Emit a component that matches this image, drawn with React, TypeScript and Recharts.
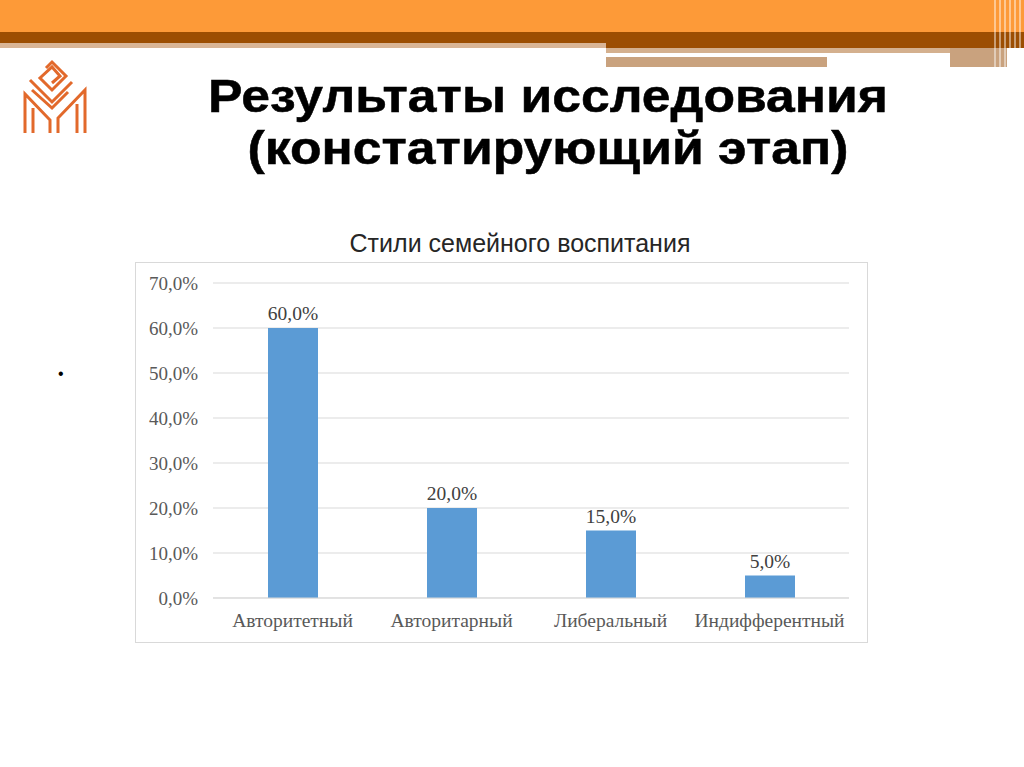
import { BarChart, Bar, XAxis, YAxis, CartesianGrid, LabelList } from "recharts";

const categories = ["Авторитетный", "Авторитарный", "Либеральный", "Индифферентный"];
const shares = [60, 20, 15, 5];
const yTicks = [0, 10, 20, 30, 40, 50, 60, 70];

const chartData = categories.map((name, i) => ({ name, share: shares[i] }));

const pct = (v: number) => `${v.toFixed(1).replace(".", ",")}%`;

const serif = "'Liberation Serif', 'DejaVu Serif', serif";
const sans = "'Liberation Sans', Arial, sans-serif";

function Banner() {
  return (
    <>
      <div style={{ position: "absolute", left: 0, top: 0, width: 1024, height: 32, background: "#fd9a38" }} />
      <div style={{ position: "absolute", left: 0, top: 32, width: 1024, height: 11, background: "#9c4e02" }} />
      <div style={{ position: "absolute", left: 0, top: 43, width: 606, height: 5, background: "#d9b596" }} />
      <div style={{ position: "absolute", left: 606, top: 43, width: 418, height: 5, background: "#9c4e02" }} />
      <div style={{ position: "absolute", left: 606, top: 48, width: 344, height: 5, background: "#d4b08e" }} />
      <div style={{ position: "absolute", left: 606, top: 57, width: 221, height: 10, background: "#c9a27e" }} />
      <div style={{ position: "absolute", left: 950, top: 48, width: 57, height: 19, background: "#c9a27e" }} />
      <div
        style={{
          position: "absolute",
          left: 994,
          top: 0,
          width: 30,
          height: 68,
          background:
            "repeating-linear-gradient(90deg, rgba(255,255,255,0.45) 0 2px, rgba(255,255,255,0) 2px 5px)",
        }}
      />
    </>
  );
}

// rough line-art version of the emblem in the top left corner
function Logo() {
  const c = "#e2692b";
  return (
    <svg width={100} height={100} style={{ position: "absolute", left: 10, top: 50 }}>
      <g fill="none" stroke={c} strokeWidth={3}>
        <polyline points="36,18 42,12 56,26 42,40 30,28 42,17 50,26 42,33" />
        <polyline points="20,30 42,52 62,32" />
        <polyline points="22,40 42,58 58,42" />
        <polyline points="15,83 15,44 40,70 40,83" />
        <polyline points="23,83 23,58" />
        <polyline points="75,83 75,40 48,68 48,83" />
        <polyline points="67,83 67,54" />
      </g>
    </svg>
  );
}

export default function App() {
  return (
    <div
      style={{
        position: "fixed",
        left: 0,
        top: 0,
        width: 1024,
        height: 767,
        overflow: "hidden",
        background: "#fff",
        fontFamily: sans,
      }}
    >
      <Banner />
      <Logo />
      <div
        style={{
          position: "absolute",
          left: 548,
          top: 70,
          transform: "translateX(-50%) scaleX(1.1)",
          whiteSpace: "nowrap",
          textAlign: "center",
          fontFamily: sans,
          fontWeight: "bold",
          fontSize: 47,
          lineHeight: "52px",
          color: "#000",
          WebkitTextStroke: "0.5px #000",
        }}
      >
        Результаты исследования
        <br />
        (констатирующий этап)
      </div>
      <div
        style={{
          position: "absolute",
          left: 520,
          top: 231,
          transform: "translateX(-50%)",
          whiteSpace: "nowrap",
          fontSize: 25,
          lineHeight: 1,
          color: "#262626",
        }}
      >
        Стили семейного воспитания
      </div>
      <div style={{ position: "absolute", left: 58, top: 365, fontSize: 16, color: "#000" }}>•</div>
      <div
        style={{
          position: "absolute",
          left: 135,
          top: 262,
          width: 733,
          height: 381,
          border: "1px solid #d9d9d9",
          boxSizing: "border-box",
        }}
      >
        <BarChart
          width={731}
          height={379}
          data={chartData}
          margin={{ top: 20, right: 18, left: 0, bottom: 0 }}
          barSize={50}
        >
          <CartesianGrid vertical={false} stroke="#d9d9d9" />
          <XAxis
            dataKey="name"
            axisLine={{ stroke: "#d9d9d9" }}
            tickLine={false}
            tickSize={0}
            tickMargin={15}
            height={44}
            tick={{ fontFamily: serif, fontSize: 19.5, fill: "#595959" }}
            interval={0}
          />
          <YAxis
            domain={[0, 70]}
            ticks={yTicks}
            width={77}
            axisLine={false}
            tickLine={false}
            tickSize={0}
            tickMargin={15}
            tickFormatter={pct}
            tick={{ fontFamily: serif, fontSize: 19, fill: "#595959" }}
          />
          <Bar dataKey="share" fill="#5b9bd5" isAnimationActive={false}>
            <LabelList
              dataKey="share"
              position="top"
              offset={8}
              formatter={(v: number) => pct(v)}
              style={{ fontFamily: serif, fontSize: 19.5, fill: "#404040" }}
            />
          </Bar>
        </BarChart>
      </div>
    </div>
  );
}
